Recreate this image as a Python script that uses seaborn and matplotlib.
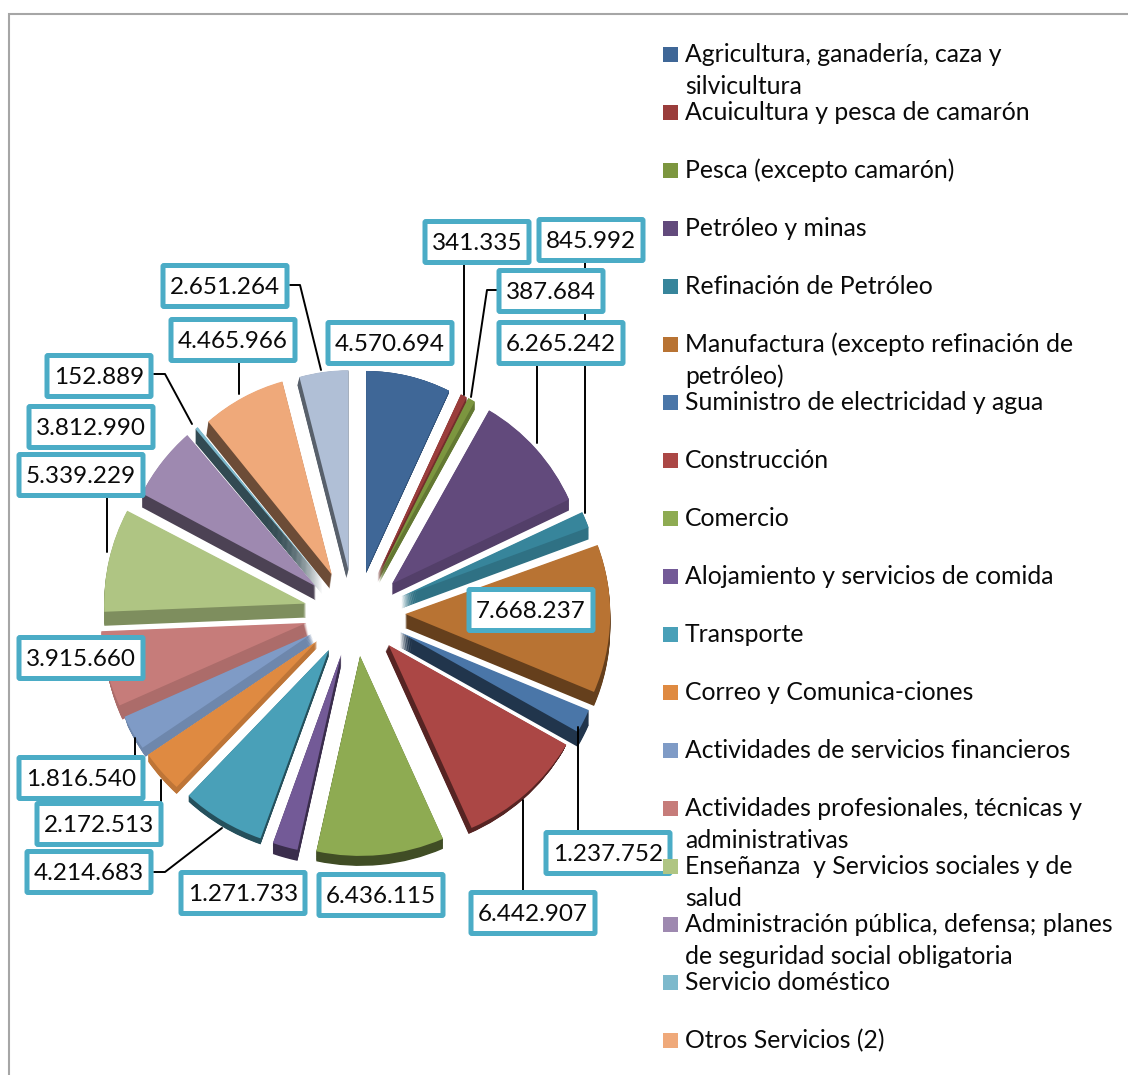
import matplotlib
matplotlib.use("Agg")
import matplotlib.pyplot as plt
from matplotlib.patches import Rectangle, FancyBboxPatch
from matplotlib.transforms import Affine2D
import numpy as np
import seaborn as sns

# Sector values, clockwise from twelve o'clock
values = [4570694, 341335, 387684, 6265242, 845992, 7668237, 1237752, 6442907,
          6436115, 1271733, 4214683, 2172513, 1816540, 3915660, 5339229, 3812990,
          152889, 4465966, 2651264]

categories = [
    "Agricultura, ganadería, caza y\nsilvicultura",
    "Acuicultura y pesca de camarón",
    "Pesca (excepto camarón)",
    "Petróleo y minas",
    "Refinación de Petróleo",
    "Manufactura (excepto refinación de\npetróleo)",
    "Suministro de electricidad y agua",
    "Construcción",
    "Comercio",
    "Alojamiento y servicios de comida",
    "Transporte",
    "Correo y Comunica-ciones",
    "Actividades de servicios financieros",
    "Actividades profesionales, técnicas y\nadministrativas",
    "Enseñanza  y Servicios sociales y de\nsalud",
    "Administración pública, defensa; planes\nde seguridad social obligatoria",
    "Servicio doméstico",
    "Otros Servicios (2)",
]

colors = ["#3F6797", "#9A3D3B", "#7C963F", "#624A7C", "#37859B", "#B87333", "#4A76A8",
          "#AB4745", "#8EAB52", "#735A97", "#49A0B8", "#DF8A41", "#7F9BC6", "#C67C7A",
          "#AFC583", "#9E89B0", "#7DB9CC", "#EFA97A", "#B0BFD6"]

# How far and how dark the side of each slice shows (pixels, shade)
side_dx = [0, 0, 0, 0, 0, 0, 0, -3, 0, 0, 0, 0, 3, 3, 0, 0, 0, -2, -2]
side_dy = [2, 8, 8, 11, 12, 14, 15, 6, 10, 11, 6, 7, 9, 14, 14, 14, 14, 14, 8]
side_shade = [0.8, 0.75, 0.8, 0.85, 0.85, 0.55, 0.45, 0.5, 0.45, 0.5, 0.5, 0.85, 0.87,
              0.87, 0.72, 0.48, 0.4, 0.45, 0.5]

# Label boxes (centre x, centre y in pixels) and their leader lines
label_pos = [(390, 343), (477, 242), (551, 291), (561, 343), (591, 240), (531, 610),
             (608, 853), (533, 913), (381, 895), (243, 893), (89, 872), (99, 824),
             (81, 778), (81, 658), (81, 475), (91, 427), (99, 376), (233, 340), (225, 286)]
leaders = [
    [(464, 265), (464, 395)],
    [(497, 290), (487, 290), (471, 397)],
    [(537, 365), (537, 443)],
    [(585, 263), (585, 513)],
    [(290, 285), (300, 285), (321, 370)],
    [(239, 363), (239, 394)],
    [(154, 374), (165, 374), (192, 424)],
    [(107, 497), (107, 552)],
    [(135, 756), (135, 738)],
    [(161, 802), (161, 780)],
    [(154, 872), (165, 872), (222, 828)],
    [(578, 830), (578, 727)],
    [(523, 890), (523, 800)],
]

W, H = 1128, 1075
CX, CY = 355, 613
RX, RY = 205, 200

sns.set_theme(style="white")
plt.rcParams["font.family"] = ["Lato", "DejaVu Sans"]
palette = sns.color_palette(colors)

fig = plt.figure(figsize=(W / 100, H / 100), dpi=100, facecolor="white")
ax = fig.add_axes([0, 0, 1, 1])
explode = [0.245] * len(values)
edge = dict(linewidth=0, edgecolor="none")


def shape_slice(w, dx=0, dy=0):
    # flatten the explode in y and narrow the far slices a bit, for the 3D look
    mid = np.radians((w.theta1 + w.theta2) / 2)
    x, y = w.center
    x, y = x + dx / RX, y * 0.88 + dy / RY
    w.set_center((x, y))
    sx = 1 - 0.07 * max(0, np.sin(mid))
    w.set_transform(Affine2D().translate(-x, -y).scale(sx, 1).translate(x, y) + ax.transData)


# Sides first: stacked copies of the pie shifted down, then the top faces
shades = [tuple(np.array(c) * s) for c, s in zip(palette, side_shade)]
for k in np.linspace(1, 0.05, 14):
    wedges, _ = ax.pie(values, explode=explode, colors=shades, startangle=90,
                       counterclock=False, wedgeprops=edge)
    for i, w in enumerate(wedges):
        shape_slice(w, k * side_dx[i], -k * side_dy[i])
wedges, _ = ax.pie(values, explode=explode, colors=palette, startangle=90,
                   counterclock=False, wedgeprops=edge)
for w in wedges:
    shape_slice(w)

ax.set_aspect("auto")
ax.set_xlim(-CX / RX, (W - CX) / RX)
ax.set_ylim(-(H - CY) / RY, CY / RY)
ax.axis("off")

# Overlay in pixel coordinates for frame, labels and legend
ov = fig.add_axes([0, 0, 1, 1], zorder=3)
ov.set_xlim(0, W)
ov.set_ylim(H, 0)
ov.axis("off")
ov.patch.set_alpha(0)

ov.plot([9, 9, W], [H, 14, 14], color="#A6A6A6", lw=1.5, solid_joinstyle="miter")

for pts in leaders:
    xs, ys = zip(*pts)
    ov.plot(xs, ys, color="black", lw=1.4, zorder=2)

for v, (x, y) in zip(values, label_pos):
    txt = f"{v:,}".replace(",", ".")
    bw = 124 if v >= 1000000 else 104
    ov.add_patch(FancyBboxPatch((x - bw / 2, y - 20.5), bw, 41,
                                boxstyle="round,pad=0,rounding_size=1",
                                fc="white", ec="#4BACC6", lw=3.6, zorder=3))
    ov.text(x, y + 1.5, txt, ha="center", va="center", fontsize=17.5, color="#0A0A0A", zorder=4)

for i, label in enumerate(categories):
    y = 54 + 58 * i
    ov.add_patch(Rectangle((663, y - 7.5), 15, 15, fc=colors[i], ec="none", zorder=5))
    for j, line in enumerate(label.split("\n")):
        ov.text(685, y + 0.5 + j * 32, line, ha="left", va="center", fontsize=17.8,
                color="#0A0A0A", zorder=5)

fig.savefig("out.png", dpi=100)
